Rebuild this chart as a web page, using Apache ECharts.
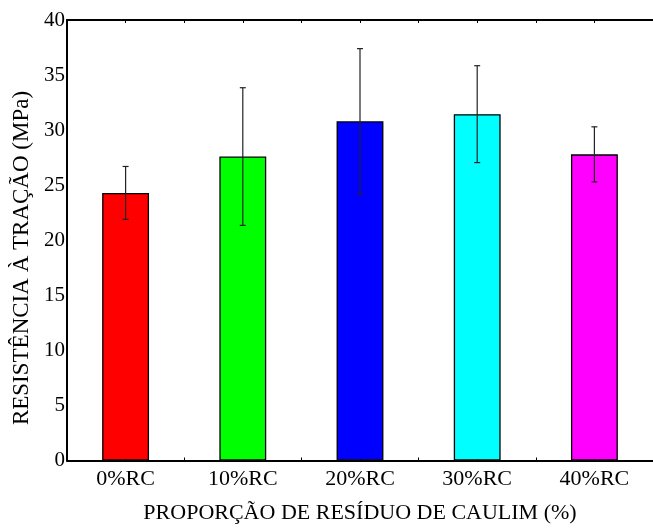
<!DOCTYPE html>
<html>
<head>
<meta charset="utf-8">
<script src="https://cdn.jsdelivr.net/npm/echarts@6/dist/echarts.min.js"></script>
<style>
  html, body { margin: 0; padding: 0; background: #fff; }
  #chart { width: 653px; height: 530px; }
</style>
</head>
<body>
<div id="chart"></div>
<script>
// Tensile strength by kaolin-waste proportion (mean ± deviation)
const categories = ['0%RC', '10%RC', '20%RC', '30%RC', '40%RC'];
const means = [24.3, 27.6, 30.8, 31.45, 27.8];
const deviations = [2.4, 6.25, 6.6, 4.4, 2.5];
const barColors = ['#ff0000', '#00ff00', '#0000ff', '#00ffff', '#ff00ff'];
const yTicks = [0, 5, 10, 15, 20, 25, 30, 35, 40];

const FONT = 'Liberation Serif';

const chart = echarts.init(document.getElementById('chart'), null, { renderer: 'canvas' });

const barData = means.map((v, i) => ({
  value: v,
  itemStyle: { color: barColors[i] }
}));

const errData = means.map((v, i) => [i, v - deviations[i], v + deviations[i]]);

// halfway tick axis: ticks at category centres and boundaries
const tickAxis = (position, showLine) => ({
  type: 'value',
  position: position,
  min: -0.5,
  max: categories.length - 0.5,
  interval: 0.5,
  axisLine: { show: showLine, onZero: false, lineStyle: { color: '#000', width: 2 } },
  axisTick: { show: true, inside: true, length: 3, lineStyle: { color: '#000', width: 1 } },
  axisLabel: { show: false },
  splitLine: { show: false }
});

chart.setOption({
  animation: false,
  backgroundColor: '#ffffff',
  grid: { left: 67, right: -6.5, top: 20, bottom: 69.5, containLabel: false },
  xAxis: [
    {
      type: 'category',
      data: categories,
      position: 'bottom',
      axisLine: { show: true, onZero: false, lineStyle: { color: '#000', width: 2 } },
      axisTick: { show: false },
      axisLabel: { color: '#000', fontFamily: FONT, fontSize: 22, margin: 8 },
      name: 'PROPORÇÃO DE RESÍDUO DE CAULIM (%)',
      nameLocation: 'middle',
      nameGap: 42,
      nameTextStyle: { color: '#000', fontFamily: FONT, fontSize: 22, align: 'center' },
      splitLine: { show: false }
    },
    tickAxis('bottom', false),
    tickAxis('top', true)
  ],
  yAxis: {
    type: 'value',
    position: 'left',
    min: yTicks[0],
    max: yTicks[yTicks.length - 1],
    interval: 5,
    axisLine: { show: true, onZero: false, lineStyle: { color: '#000', width: 2 } },
    axisTick: { show: false },
    axisLabel: { color: '#000', fontFamily: FONT, fontSize: 21, margin: 2 },
    splitLine: { show: false }
  },
  graphic: [{
    type: 'text',
    x: 22,
    y: 258,
    rotation: Math.PI / 2,
    style: {
      text: 'RESISTÊNCIA À TRAÇÃO (MPa)',
      fill: '#000',
      font: '23px "Liberation Serif"',
      align: 'center',
      verticalAlign: 'middle'
    }
  }],
  series: [
    {
      type: 'bar',
      xAxisIndex: 0,
      data: barData,
      barWidth: '40%',
      itemStyle: { borderColor: '#000', borderWidth: 1.3 },
      z: 2
    },
    {
      type: 'custom',
      xAxisIndex: 0,
      data: errData,
      z: 3,
      renderItem: function (params, api) {
        const x = api.value(0);
        const lo = api.coord([x, api.value(1)]);
        const hi = api.coord([x, api.value(2)]);
        const cap = 3;
        const style = { stroke: '#222', lineWidth: 1.2 };
        return {
          type: 'group',
          children: [
            { type: 'line', shape: { x1: lo[0], y1: lo[1], x2: hi[0], y2: hi[1] }, style: style },
            { type: 'line', shape: { x1: hi[0] - cap, y1: hi[1], x2: hi[0] + cap, y2: hi[1] }, style: style },
            { type: 'line', shape: { x1: lo[0] - cap, y1: lo[1], x2: lo[0] + cap, y2: lo[1] }, style: style }
          ]
        };
      }
    }
  ]
});
</script>
</body>
</html>
